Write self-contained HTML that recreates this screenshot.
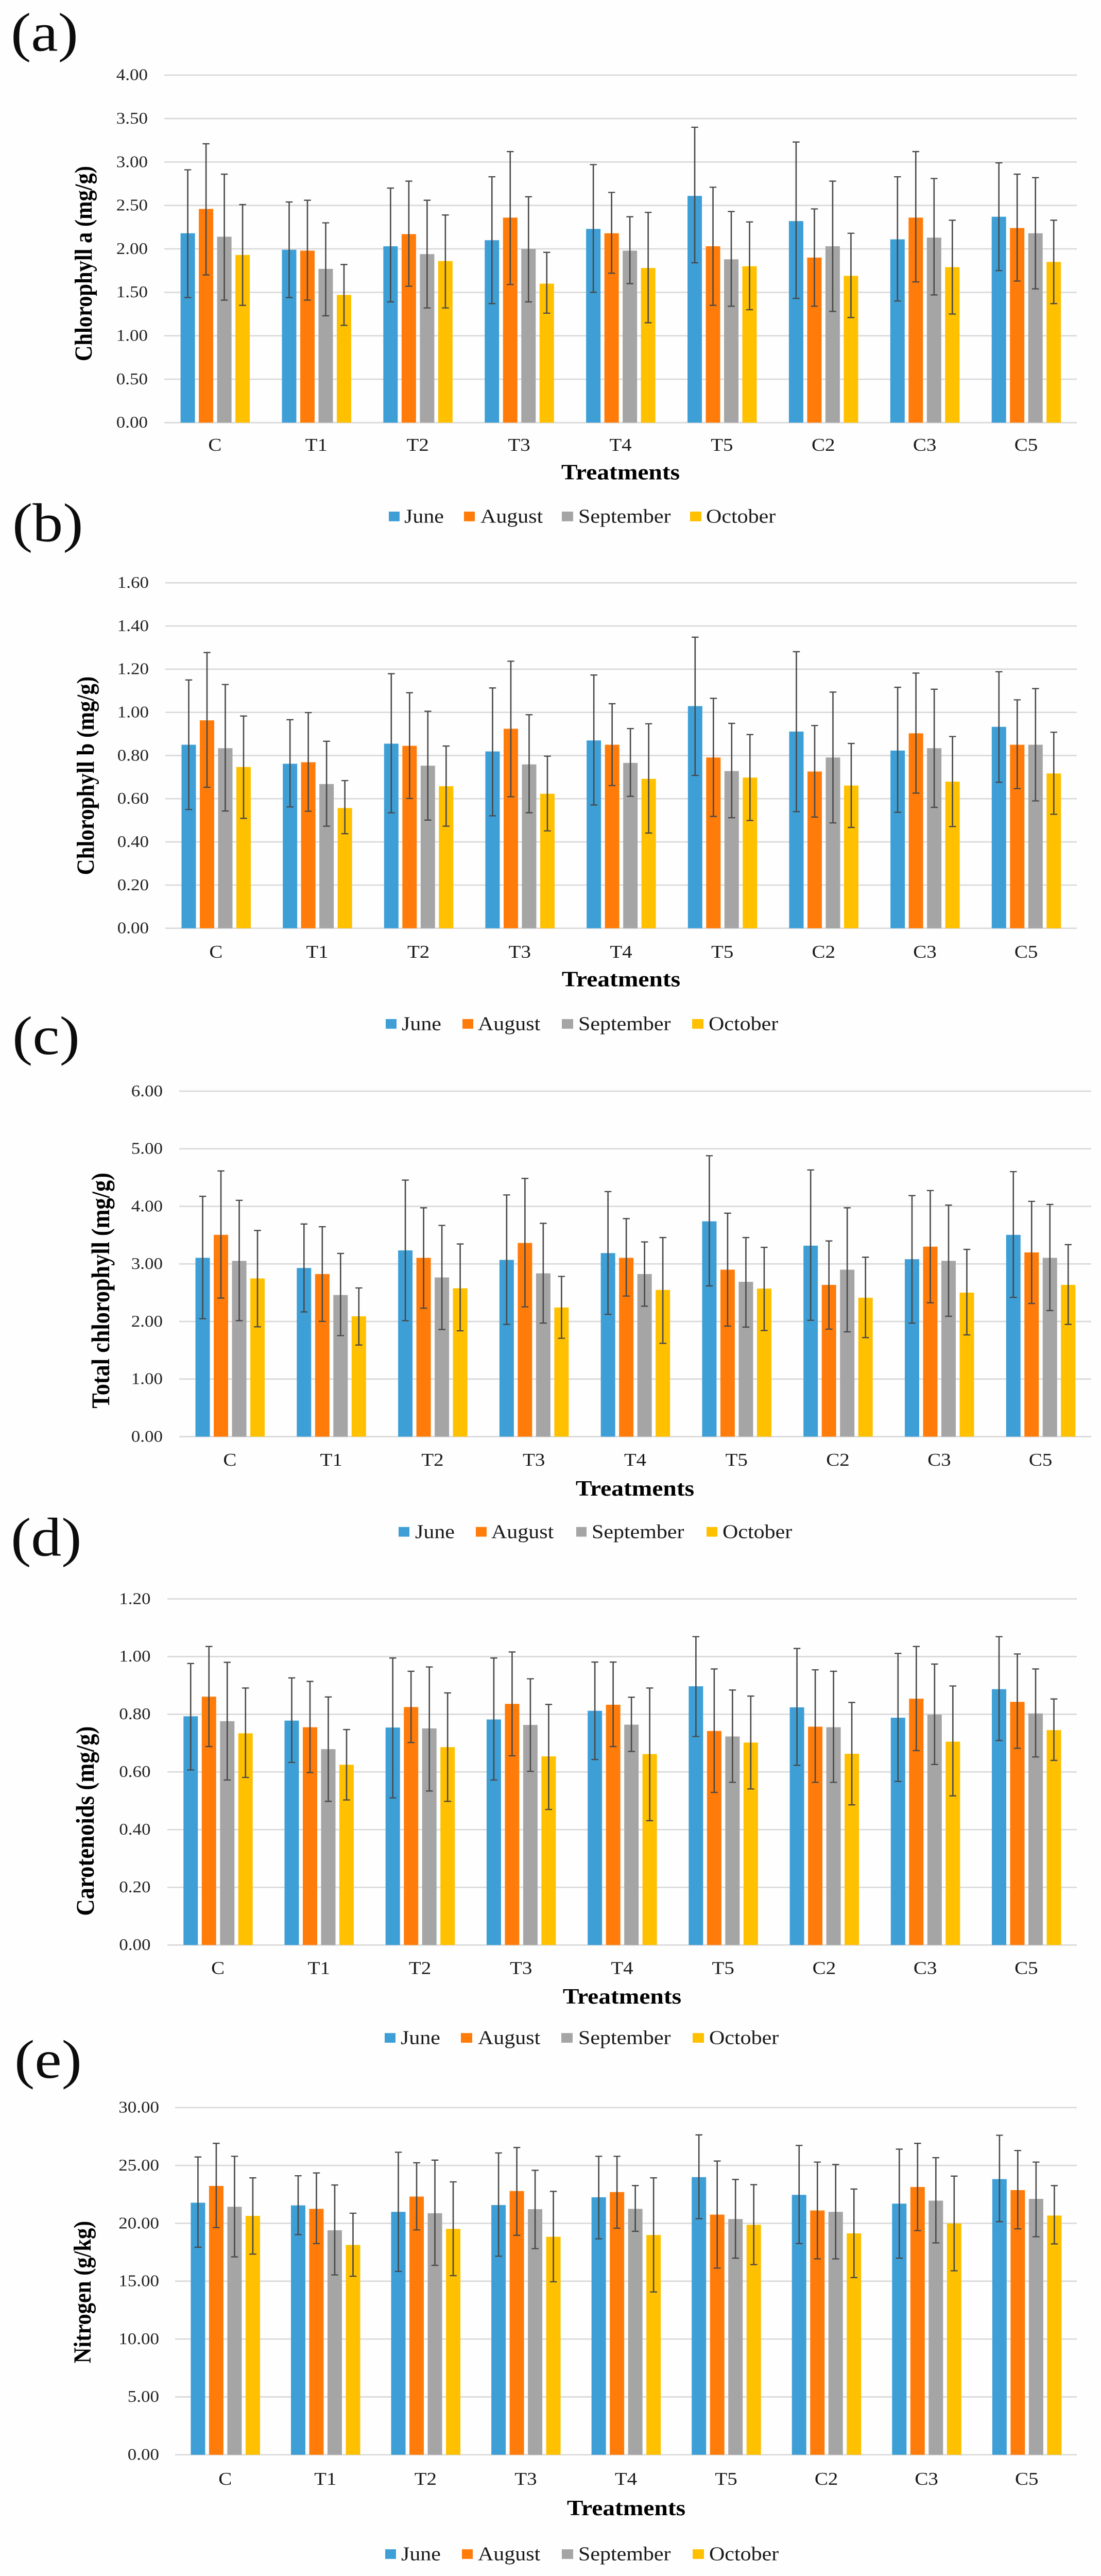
<!DOCTYPE html>
<html lang="en">
<head>
<meta charset="utf-8">
<title>Chlorophyll, carotenoids and nitrogen by treatment</title>
<style>
html,body{margin:0;padding:0;width:100vw;height:100vh;overflow:hidden;background:#fefefe;}
svg{display:block;position:fixed;left:0;top:0;width:100vw;height:100vh;overflow:hidden;}
script{display:none;}
text{font-family:"Liberation Serif","Times New Roman",serif;fill:#111;}
.letter{font-size:118px;fill:#0c0c0c;}
.tick{font-size:35px;fill:#222;text-anchor:end;}
.cat{font-size:39px;fill:#1a1a1a;text-anchor:middle;}
.xt{font-size:47.5px;font-weight:bold;text-anchor:middle;fill:#000;}
.yt{font-weight:bold;text-anchor:middle;fill:#000;}
.lg{font-size:42px;fill:#1a1a1a;}
</style>
</head>
<body>
<svg id="figure" xmlns="http://www.w3.org/2000/svg" viewBox="0 0 2138 5589" preserveAspectRatio="none">
<rect x="0" y="0" width="2138" height="5589" fill="#fefefe"/>

<g id="panel-a">
<text class="letter" x="21" y="110">(a)</text>
<text class="yt" font-size="47.5" transform="translate(178,572) rotate(-90)">Chlorophyll a (mg/g)</text>
<text class="xt" x="1205" y="1040">Treatments</text>
<g>
<rect x="755" y="1110" width="21" height="21" fill="#3E9FD6"/>
<text class="lg" x="785" y="1134">June</text>
<rect x="901" y="1110" width="21" height="21" fill="#FF7C0A"/>
<text class="lg" x="933" y="1134">August</text>
<rect x="1091" y="1110" width="22" height="21" fill="#A5A5A5"/>
<text class="lg" x="1123" y="1134">September</text>
<rect x="1340" y="1110" width="22" height="21" fill="#FFC000"/>
<text class="lg" x="1371" y="1134">October</text>
</g>
</g>

<g id="panel-b">
<text class="letter" x="24" y="1174">(b)</text>
<text class="yt" font-size="48" transform="translate(182,1683) rotate(-90)">Chlorophyll b (mg/g)</text>
<text class="xt" x="1206" y="2140">Treatments</text>
<g>
<rect x="749" y="2211" width="21" height="21" fill="#3E9FD6"/>
<text class="lg" x="780" y="2235">June</text>
<rect x="898" y="2211" width="21" height="21" fill="#FF7C0A"/>
<text class="lg" x="928" y="2235">August</text>
<rect x="1091" y="2211" width="22" height="21" fill="#A5A5A5"/>
<text class="lg" x="1123" y="2235">September</text>
<rect x="1344" y="2211" width="22" height="21" fill="#FFC000"/>
<text class="lg" x="1376" y="2235">October</text>
</g>
</g>

<g id="panel-c">
<text class="letter" x="24" y="2287">(c)</text>
<text class="yt" font-size="49.5" transform="translate(212,2800) rotate(-90)">Total chlorophyll (mg/g)</text>
<text class="xt" x="1233" y="3245">Treatments</text>
<g>
<rect x="774" y="3313" width="21" height="21" fill="#3E9FD6"/>
<text class="lg" x="806" y="3337">June</text>
<rect x="924" y="3313" width="21" height="21" fill="#FF7C0A"/>
<text class="lg" x="954" y="3337">August</text>
<rect x="1119" y="3313" width="20" height="21" fill="#A5A5A5"/>
<text class="lg" x="1149" y="3337">September</text>
<rect x="1372" y="3313" width="21" height="21" fill="#FFC000"/>
<text class="lg" x="1403" y="3337">October</text>
</g>
</g>

<g id="panel-d">
<text class="letter" x="21" y="3375">(d)</text>
<text class="yt" font-size="50" transform="translate(182,3951) rotate(-90)">Carotenoids (mg/g)</text>
<text class="xt" x="1208" y="4347">Treatments</text>
<g>
<rect x="747" y="4411" width="21" height="21" fill="#3E9FD6"/>
<text class="lg" x="778" y="4435">June</text>
<rect x="895" y="4411" width="22" height="21" fill="#FF7C0A"/>
<text class="lg" x="928" y="4435">August</text>
<rect x="1090" y="4411" width="22" height="21" fill="#A5A5A5"/>
<text class="lg" x="1123" y="4435">September</text>
<rect x="1345" y="4411" width="22" height="21" fill="#FFC000"/>
<text class="lg" x="1377" y="4435">October</text>
</g>
</g>

<g id="panel-e">
<text class="letter" x="28" y="4508">(e)</text>
<text class="yt" font-size="47.5" transform="translate(176,4973) rotate(-90)">Nitrogen (g/kg)</text>
<text class="xt" x="1216" y="5457">Treatments</text>
<g>
<rect x="748" y="5531" width="21" height="21" fill="#3E9FD6"/>
<text class="lg" x="779" y="5555">June</text>
<rect x="897" y="5531" width="21" height="21" fill="#FF7C0A"/>
<text class="lg" x="928" y="5555">August</text>
<rect x="1091" y="5531" width="22" height="21" fill="#A5A5A5"/>
<text class="lg" x="1123" y="5555">September</text>
<rect x="1345" y="5531" width="22" height="21" fill="#FFC000"/>
<text class="lg" x="1377" y="5555">October</text>
</g>
</g>
</svg>

<script>
// Shared categories and series
const categories = ['C','T1','T2','T3','T4','T5','C2','C3','C5'];
const seriesNames = ['june','august','september','october'];
const seriesColors = ['#3E9FD6','#FF7C0A','#A5A5A5','#FFC000'];

// Tick labels per panel
const ticksA = ['0.00','0.50','1.00','1.50','2.00','2.50','3.00','3.50','4.00'];
const ticksB = ['0.00','0.20','0.40','0.60','0.80','1.00','1.20','1.40','1.60'];
const ticksC = ['0.00','1.00','2.00','3.00','4.00','5.00','6.00'];
const ticksD = ['0.00','0.20','0.40','0.60','0.80','1.00','1.20'];
const ticksE = ['0.00','5.00','10.00','15.00','20.00','25.00','30.00'];

// Values: one row per treatment, columns June, August, September, October
const chlAMean = [
 [2.18,2.46,2.14,1.93],[1.99,1.98,1.77,1.47],[2.03,2.17,1.94,1.86],
 [2.10,2.36,2.00,1.60],[2.23,2.18,1.98,1.78],[2.61,2.03,1.88,1.80],
 [2.32,1.90,2.03,1.69],[2.11,2.36,2.13,1.79],[2.37,2.24,2.18,1.85]];
const chlAHigh = [
 [2.91,3.21,2.86,2.51],[2.54,2.56,2.30,1.82],[2.70,2.78,2.56,2.39],
 [2.83,3.12,2.60,1.96],[2.97,2.65,2.37,2.42],[3.40,2.71,2.43,2.31],
 [3.23,2.46,2.78,2.18],[2.83,3.12,2.81,2.33],[2.99,2.86,2.82,2.33]];
const chlALow = [
 [1.44,1.70,1.41,1.35],[1.44,1.41,1.23,1.12],[1.39,1.57,1.32,1.32],
 [1.37,1.59,1.39,1.26],[1.50,1.72,1.60,1.15],[1.84,1.35,1.34,1.30],
 [1.43,1.34,1.28,1.21],[1.40,1.62,1.47,1.25],[1.75,1.63,1.54,1.37]];

const chlBMean = [
 [0.850,0.963,0.834,0.747],[0.762,0.769,0.668,0.557],[0.855,0.845,0.753,0.658],
 [0.819,0.924,0.759,0.623],[0.870,0.850,0.766,0.692],[1.029,0.791,0.728,0.698],
 [0.911,0.726,0.791,0.661],[0.823,0.903,0.834,0.679],[0.933,0.850,0.850,0.717]];
const chlBHigh = [
 [1.150,1.277,1.129,0.983],[0.966,0.999,0.866,0.684],[1.179,1.091,1.005,0.844],
 [1.113,1.237,0.989,0.797],[1.173,1.040,0.925,0.947],[1.348,1.065,0.949,0.897],
 [1.281,0.939,1.094,0.856],[1.116,1.182,1.107,0.888],[1.188,1.058,1.110,0.908]];
const chlBLow = [
 [0.550,0.653,0.543,0.509],[0.562,0.542,0.473,0.438],[0.535,0.601,0.501,0.473],
 [0.521,0.609,0.535,0.451],[0.571,0.661,0.611,0.441],[0.708,0.518,0.512,0.499],
 [0.540,0.515,0.488,0.467],[0.537,0.626,0.560,0.471],[0.676,0.647,0.590,0.528]];

const totalMean = [
 [3.106,3.505,3.053,2.748],[2.930,2.824,2.460,2.090],[3.235,3.106,2.765,2.577],
 [3.070,3.364,2.836,2.243],[3.188,3.106,2.824,2.548],[3.740,2.900,2.689,2.571],
 [3.317,2.636,2.900,2.413],[3.082,3.300,3.053,2.501],[3.505,3.200,3.106,2.636]];
const totalHigh = [
 [4.174,4.615,4.104,3.581],[3.693,3.646,3.182,2.583],[4.456,3.975,3.669,3.346],
 [4.198,4.485,3.705,2.783],[4.256,3.787,3.382,3.458],[4.879,3.881,3.458,3.288],
 [4.632,3.399,3.975,3.117],[4.186,4.274,4.022,3.252],[4.603,4.086,4.033,3.335]];
const totalLow = [
 [2.049,2.407,2.014,1.908],[2.166,2.002,1.755,1.591],[2.014,2.231,1.861,1.838],
 [1.949,2.254,1.973,1.708],[2.125,2.442,2.266,1.620],[2.618,1.920,1.902,1.843],
 [2.020,1.867,1.820,1.720],[1.973,2.325,2.090,1.767],[2.419,2.313,2.190,1.949]];

const carotMean = [
 [0.793,0.861,0.776,0.734],[0.778,0.755,0.679,0.625],[0.754,0.825,0.751,0.686],
 [0.782,0.836,0.763,0.654],[0.812,0.833,0.764,0.662],[0.897,0.742,0.723,0.702],
 [0.824,0.757,0.755,0.663],[0.788,0.854,0.799,0.705],[0.887,0.843,0.803,0.745]];
const carotHigh = [
 [0.976,1.035,0.980,0.891],[0.926,0.914,0.860,0.747],[0.995,0.949,0.964,0.874],
 [0.995,1.016,0.923,0.834],[0.981,0.981,0.859,0.891],[1.069,0.957,0.884,0.863],
 [1.028,0.954,0.949,0.841],[1.011,1.035,0.974,0.898],[1.069,1.009,0.957,0.853]];
const carotLow = [
 [0.607,0.688,0.572,0.581],[0.633,0.598,0.498,0.503],[0.510,0.702,0.534,0.498],
 [0.572,0.656,0.602,0.470],[0.643,0.688,0.671,0.431],[0.723,0.529,0.564,0.541],
 [0.623,0.564,0.564,0.486],[0.567,0.674,0.626,0.517],[0.709,0.682,0.652,0.640]];

const nitroMean = [
 [21.78,23.23,21.43,20.64],[21.55,21.25,19.40,18.13],[20.99,22.31,20.87,19.52],
 [21.58,22.79,21.22,18.84],[22.25,22.70,21.25,18.99],[23.99,20.75,20.37,19.87],
 [22.46,21.11,20.99,19.13],[21.70,23.14,21.96,19.99],[23.82,22.87,22.11,20.67]];
const nitroHigh = [
 [25.73,26.91,25.79,23.93],[24.11,24.35,23.31,20.87],[26.14,25.23,25.46,23.58],
 [26.08,26.55,24.58,22.76],[25.79,25.79,23.26,23.93],[27.64,25.38,23.79,23.34],
 [26.73,25.29,25.08,22.96],[26.41,26.91,25.67,24.08],[27.61,26.29,25.29,23.26]];
const nitroLow = [
 [17.93,19.63,17.10,17.34],[19.02,18.25,15.54,15.43],[15.84,19.43,16.37,15.48],
 [17.16,18.96,17.81,14.95],[18.66,19.58,19.31,14.07],[20.40,16.13,16.99,16.43],
 [18.25,16.93,16.93,15.31],[16.99,19.37,18.31,15.90],[20.14,19.52,18.84,18.22]];

// Panel layout is separate from the data above
const panels = [
 {id:'a',left:319,right:2091,top:163,bottom:917,max:4,ticks:ticksA,tickX:287,catY:978,mean:chlAMean,high:chlAHigh,low:chlALow},
 {id:'b',left:321,right:2091,top:1264.5,bottom:2014,max:1.6,ticks:ticksB,tickX:289,catY:2078,mean:chlBMean,high:chlBHigh,low:chlBLow},
 {id:'c',left:348,right:2119,top:2367.5,bottom:3117,max:6,ticks:ticksC,tickX:316,catY:3180,mean:totalMean,high:totalHigh,low:totalLow},
 {id:'d',left:325,right:2091,top:3469,bottom:4220,max:1.2,ticks:ticksD,tickX:292.5,catY:4283,mean:carotMean,high:carotHigh,low:carotLow},
 {id:'e',left:340,right:2091,top:4572.7,bottom:5326,max:30,ticks:ticksE,tickX:309,catY:5391,mean:nitroMean,high:nitroHigh,low:nitroLow}
];

const SVG_NS = 'http://www.w3.org/2000/svg';
const BAR_W = 28, BAR_STEP = 35.5, CAP = 13.5;

function make(parent, tag, attrs) {
  const node = document.createElementNS(SVG_NS, tag);
  for (const k in attrs) node.setAttribute(k, attrs[k]);
  parent.appendChild(node);
  return node;
}

panels.forEach(function (p) {
  const root = document.getElementById('panel-' + p.id);
  const xBand = function (i) { return p.left + (p.right - p.left) * (i + 0.5) / categories.length; };
  const xBar = function (i, s) { return xBand(i) + (s - 1.5) * BAR_STEP + 0.4; };
  const yVal = function (v) { return p.bottom - (p.bottom - p.top) * v / p.max; };

  p.ticks.forEach(function (label) {
    const y = yVal(parseFloat(label));
    let el = make(root, 'line', {x1:p.left, x2:p.right, y1:y, y2:y, stroke:'#D9D9D9', 'stroke-width':3});
    
    
    el = make(root, 'text', {class:'tick', x:p.tickX, y:y + 11});
    el.textContent = label;
    
    
  });

  categories.forEach(function (cat, i) {
    let el = make(root, 'text', {class:'cat', x:xBand(i), y:p.catY});
    el.textContent = cat;
    
    

    seriesNames.forEach(function (name, s) {
      const cx = xBar(i, s);
      const top = yVal(p.mean[i][s]);
      const bar = make(root, 'rect', {x:cx - BAR_W / 2, y:top, width:BAR_W, height:p.bottom - top, fill:seriesColors[s]});
      
      
    });
  });

  categories.forEach(function (cat, i) {
    seriesNames.forEach(function (name, s) {
      const cx = xBar(i, s);
      const hi = yVal(p.high[i][s]);
      const lo = yVal(p.low[i][s]);
      const d = 'M' + cx + ' ' + hi + 'V' + lo +
                'M' + (cx - CAP / 2) + ' ' + hi + 'H' + (cx + CAP / 2) +
                'M' + (cx - CAP / 2) + ' ' + lo + 'H' + (cx + CAP / 2);
      const err = make(root, 'path', {d:d, fill:'none', stroke:'#484848', 'stroke-width':2.6});
      
      
    });
  });
});
</script>
</body>
</html>
